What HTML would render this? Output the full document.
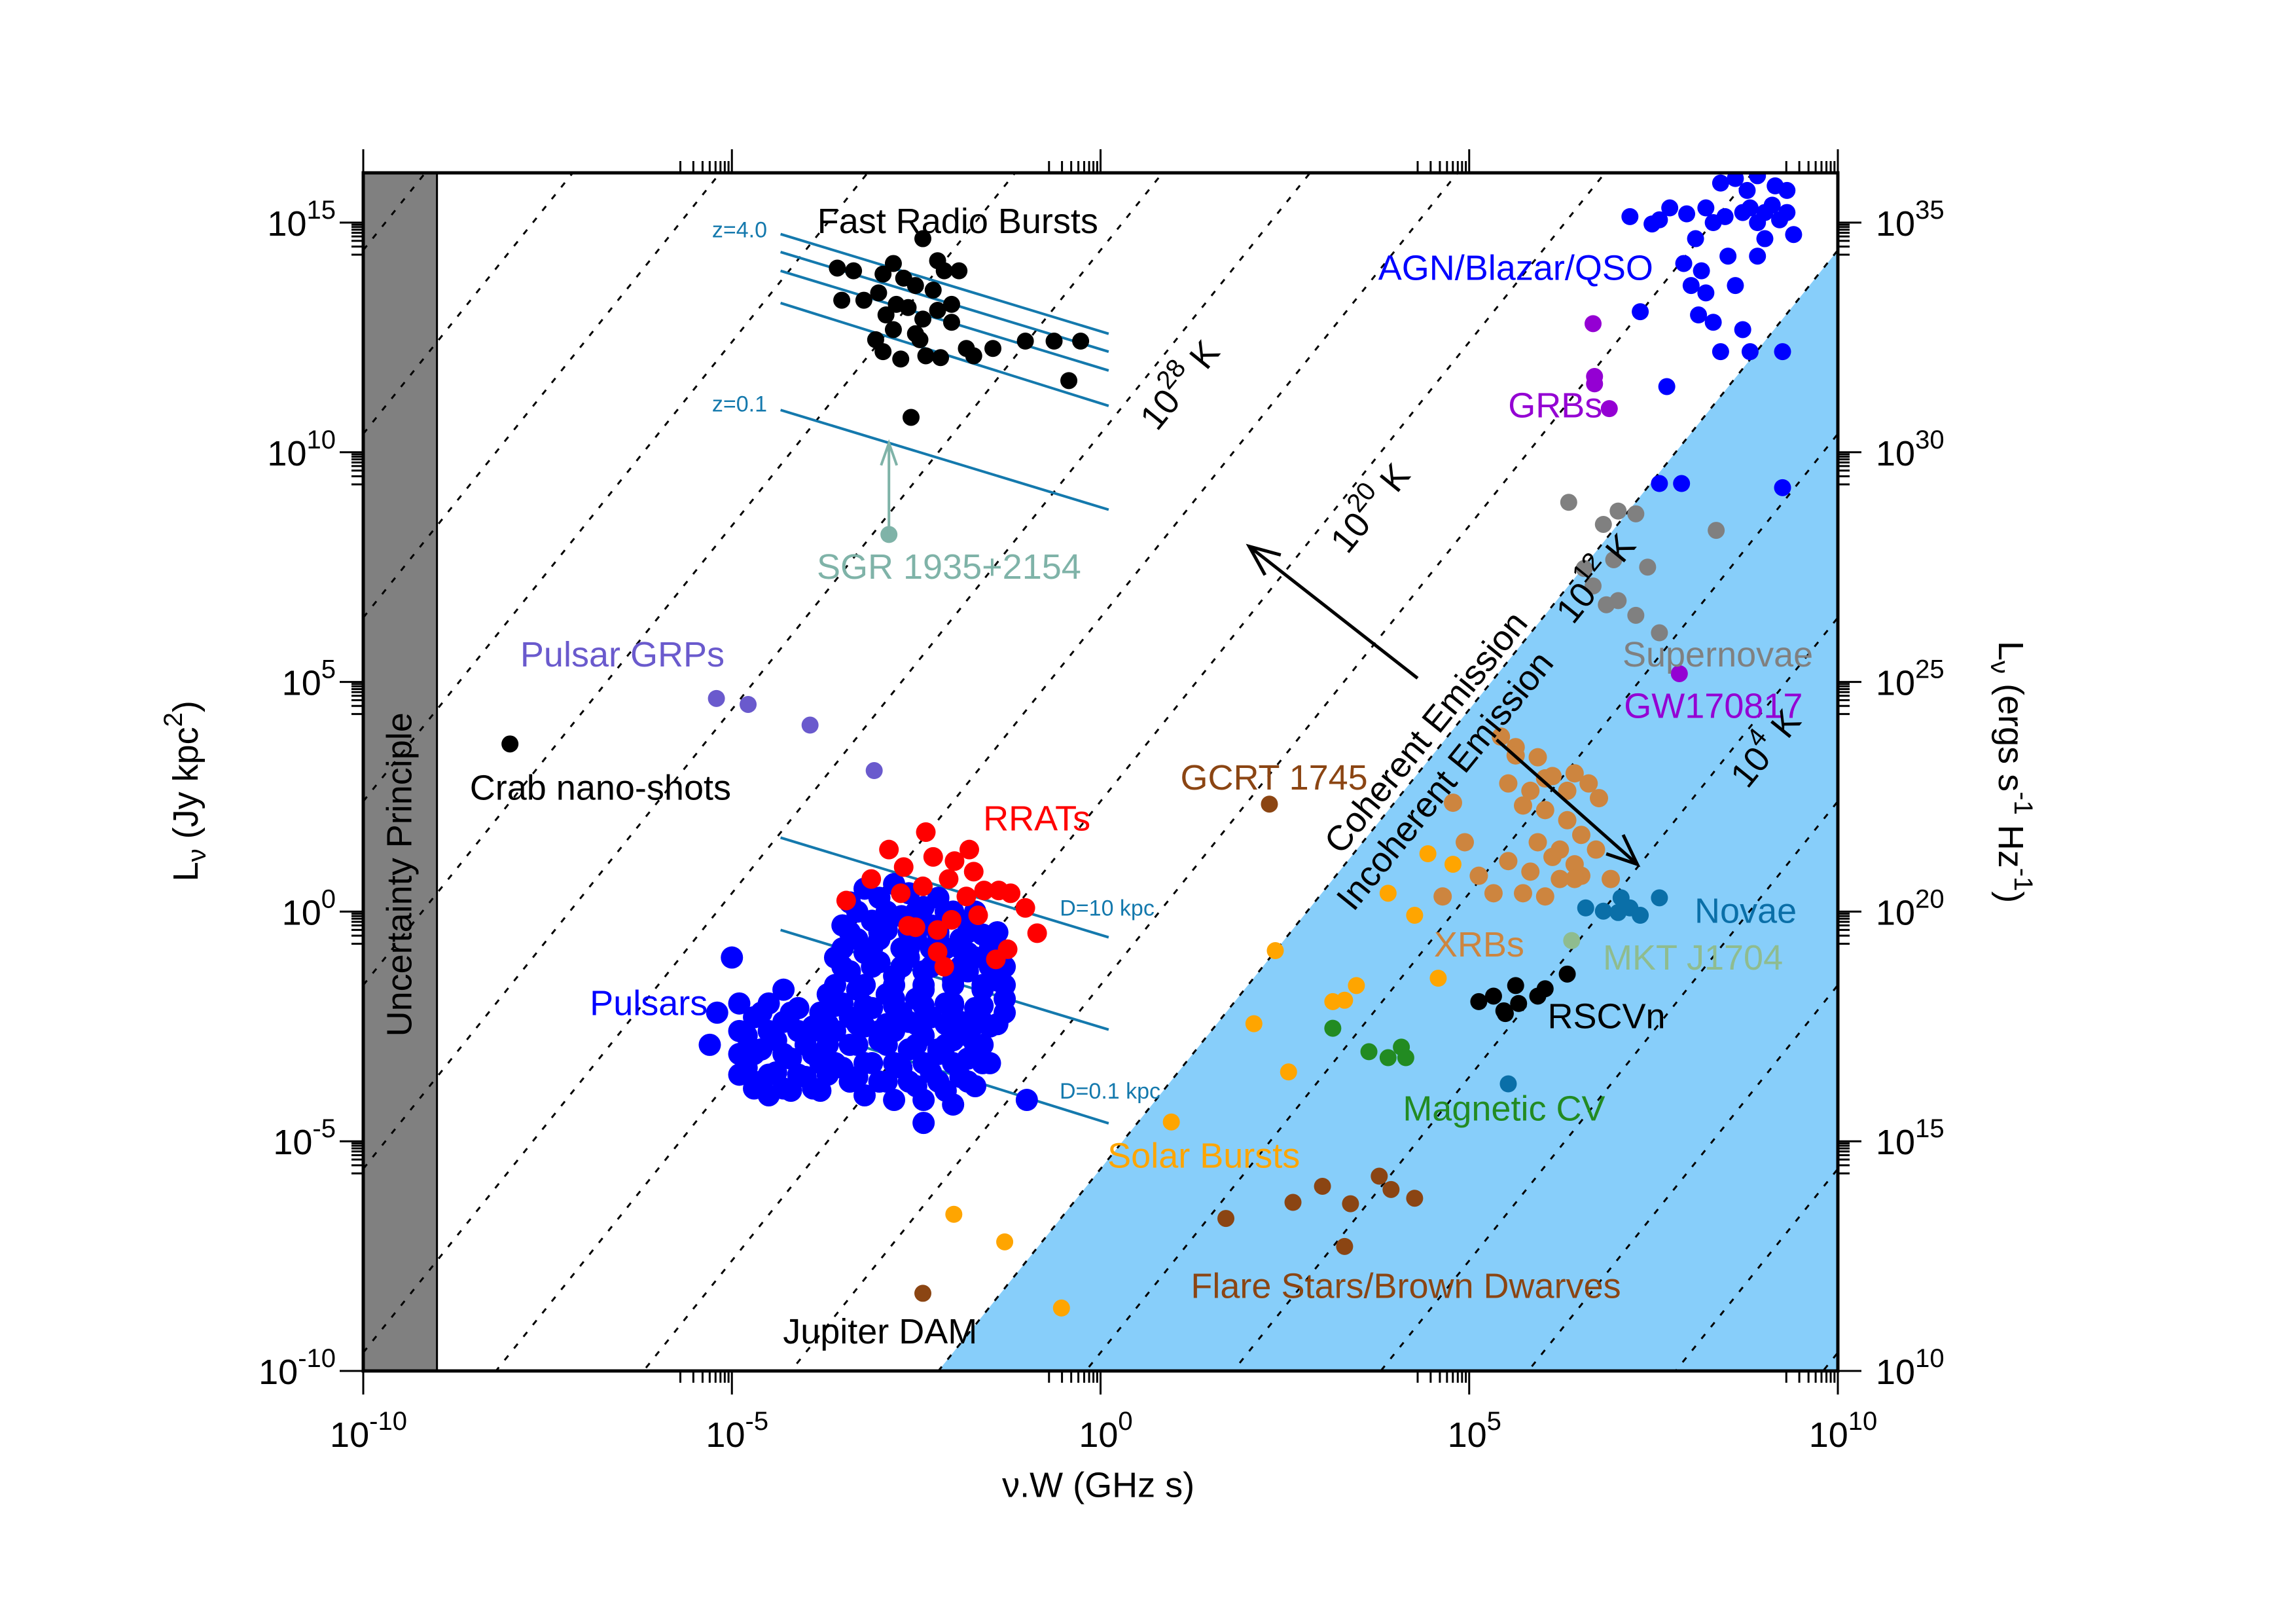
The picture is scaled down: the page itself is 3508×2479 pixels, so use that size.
<!DOCTYPE html>
<html><head><meta charset="utf-8"><style>
html,body{margin:0;padding:0;background:#fff;width:3508px;height:2479px;overflow:hidden;}
svg{display:block;font-family:"Liberation Sans",Arial,sans-serif;}
</style></head><body>
<svg id="chart" xmlns="http://www.w3.org/2000/svg" width="3508" height="2479" viewBox="0 0 3508 2479"></svg>
<script>
// ---- data (log10 values) ----
const xTicks=[-10,-5,0,5,10];
const yTicksLeft=[-10,-5,0,5,10,15];
const yTicksRight=[10,15,20,25,30,35];
const tempLogs=[-12,-8,-4,0,4,8,12,16,20,24,28,32,36,40,44,48,52];
const frbX=[-3.57,-3.35,-2.95,-2.81,-2.67,-2.51,-2.41,-2.21,-2.12,-3.01,-3.21,-3.51,-2.91,-2.61,-2.41,-2.21,-2.81,-2.51,-2.02,-3.05,-2.95,-2.71,-2.37,-1.82,-1.72,-1.46,-2.17,-1.02,-0.63,-0.27,-0.43,-2.57,-2.27,-2.45,-2.77,-1.92,-2.02];
const frbY=[14.01,13.95,13.88,14.11,13.79,13.63,14.65,14.17,13.95,13.47,13.31,13.31,12.99,13.15,12.90,13.09,12.67,12.58,12.83,12.45,12.19,12.03,12.10,12.26,12.10,12.26,12.06,12.42,12.42,12.42,11.56,10.76,13.53,12.45,13.22,13.95,13.22];
const psrX=[-3.4,-3.2,-3.0,-2.8,-2.6,-2.4,-2.2,-2.0,-1.8,-1.6,-1.4,-3.5,-3.3,-3.1,-2.9,-2.7,-2.5,-2.3,-2.1,-1.9,-1.7,-1.5,-3.6,-3.4,-3.2,-3.0,-2.8,-2.6,-2.4,-2.2,-2.0,-1.8,-1.6,-1.4,-1.3,-3.7,-3.5,-3.3,-3.1,-2.9,-2.7,-2.5,-2.3,-2.1,-1.9,-1.7,-1.5,-1.3,-3.6,-3.4,-3.2,-3.0,-2.8,-2.6,-2.4,-2.2,-2.0,-1.8,-1.6,-1.5,-3.5,-3.3,-3.1,-2.9,-2.7,-2.5,-2.3,-2.1,-1.9,-1.7,-4.9,-4.7,-4.5,-4.3,-4.1,-3.9,-4.8,-4.6,-4.4,-4.2,-4.0,-3.8,-4.8,-4.6,-4.4,-4.2,-4.0,-3.8,-4.5,-3.2,-2.8,-2.4,-2.0,-4.3,-5.0,-5.3,-2.4,-1.0,-5.2,-4.9,-3.0,-2.6,-2.2,-1.8,-3.2,-2.8,-2.4,-2.0,-1.6,-3.4,-3.0,-2.6,-2.2,-1.8];
const psrY=[0.2,0.5,0.3,0.6,0.4,0.1,0.3,0.0,-0.2,-0.5,-0.8,-0.3,-0.6,-0.2,-0.4,-0.1,-0.6,-0.3,-0.8,-0.6,-1.0,-1.2,-1.0,-1.3,-0.9,-1.1,-1.4,-1.0,-1.3,-1.1,-1.5,-1.3,-1.7,-1.5,-1.9,-1.8,-2.0,-1.7,-2.1,-1.8,-2.2,-1.9,-2.3,-2.0,-2.4,-2.1,-2.5,-2.2,-2.6,-2.9,-2.5,-2.8,-2.6,-3.0,-2.7,-3.1,-2.8,-3.2,-2.9,-3.3,-3.4,-3.6,-3.3,-3.7,-3.4,-3.8,-3.5,-3.9,-3.6,-3.8,-2.0,-2.3,-2.0,-2.4,-2.1,-2.5,-2.7,-3.0,-2.8,-3.2,-2.9,-3.3,-3.4,-3.7,-3.5,-3.9,-3.6,-3.9,-4.0,-4.0,-4.1,-4.1,-4.2,-1.7,-1.0,-2.9,-4.6,-4.1,-2.2,-3.1,-0.6,-0.8,-0.5,-0.9,-1.6,-1.9,-1.7,-2.0,-2.4,-2.3,-2.6,-2.4,-3.0,-2.7];
const psr2X=[-3.3,-2.9,-2.5,-2.1,-1.7,-3.4,-3.0,-2.6,-2.2,-1.8,-1.4,-3.5,-3.1,-2.7,-2.3,-1.9,-1.5,-3.5,-3.1,-2.7,-2.3,-1.9,-1.5,-1.3,-3.6,-3.2,-2.8,-2.4,-2.0,-1.6,-1.3,-3.6,-3.2,-2.8,-2.4,-2.0,-1.6,-3.7,-3.3,-2.9,-2.5,-2.1,-1.7,-1.4,-3.7,-3.3,-2.9,-2.5,-2.1,-1.7,-3.6,-3.2,-2.8,-2.4,-2.0,-1.6,-3.4,-3.0,-2.6,-2.2,-1.8,-4.6,-4.2,-3.8,-4.9,-4.5,-4.1,-3.8,-4.7,-4.3,-3.9,-4.9,-4.5,-4.1,-3.7,-4.7,-4.3,-3.9];
const psr2Y=[0.0,0.0,0.0,0.0,0.0,-0.45,-0.45,-0.45,-0.45,-0.45,-0.45,-0.8,-0.8,-0.8,-0.8,-0.8,-0.8,-1.2,-1.2,-1.2,-1.2,-1.2,-1.2,-1.2,-1.6,-1.6,-1.6,-1.6,-1.6,-1.6,-1.6,-2.05,-2.05,-2.05,-2.05,-2.05,-2.05,-2.45,-2.45,-2.45,-2.45,-2.45,-2.45,-2.45,-2.9,-2.9,-2.9,-2.9,-2.9,-2.9,-3.3,-3.3,-3.3,-3.3,-3.3,-3.3,-3.7,-3.7,-3.7,-3.7,-3.7,-2.2,-2.2,-2.2,-2.6,-2.6,-2.6,-2.6,-3.1,-3.1,-3.1,-3.55,-3.55,-3.55,-3.55,-3.85,-3.85,-3.85];
const rratX=[-3.45,-3.11,-2.87,-2.67,-2.37,-2.27,-1.98,-1.72,-1.58,-1.38,-1.02,-0.86,-1.26,-1.42,-2.02,-2.21,-2.51,-2.61,-2.71,-2.41,-1.82,-1.66,-2.12,-2.21,-1.22,-1.78,-2.06];
const rratY=[0.24,0.71,1.35,0.97,1.73,1.19,1.10,0.87,0.46,0.46,0.08,-0.47,-0.82,-1.04,-0.18,-0.40,-0.34,-0.31,0.40,0.55,0.33,-0.08,-1.20,-0.88,0.40,1.35,0.71];
const grpX=[-5.21,-4.78,-3.94,-3.07];
const grpY=[4.64,4.51,4.06,3.07];
const crabX=[-8.01]; const crabY=[3.65];
const sgrX=[-2.87]; const sgrY=[8.21];
const gcrtX=[2.29]; const gcrtY=[2.34];
const jupX=[-2.41]; const jupY=[-8.31];
const solarX=[-1.99,-1.30,-0.53,0.96,2.08,2.55,2.37,3.15,3.31,3.47,3.90,4.26,4.44,4.58,4.78];
const solarY=[-6.59,-7.19,-8.63,-4.58,-2.44,-3.49,-0.85,-1.96,-1.93,-1.61,0.40,-0.08,1.26,-1.45,1.03];
const flareX=[1.70,2.61,3.01,3.39,3.78,3.94,4.26,3.31];
const flareY=[-6.68,-6.33,-5.98,-6.36,-5.76,-6.05,-6.24,-7.29];
const mcvX=[3.15,3.64,3.90,4.08,4.14];
const mcvY=[-2.54,-3.05,-3.18,-2.95,-3.18];
const rscvnX=[5.13,5.33,5.47,5.63,5.67,5.93,6.03,6.33,5.49];
const rscvnY=[-1.96,-1.84,-2.16,-1.61,-2.0,-1.84,-1.68,-1.36,-2.22];
const novaX=[6.58,6.82,7.06,7.18,7.32,7.58,7.02,5.53];
const novaY=[0.08,0.01,0.30,0.08,-0.08,0.30,-0.02,-3.75];
const mktX=[6.39]; const mktY=[-0.63];
const xrbX=[5.43,5.63,5.93,5.53,5.83,6.13,6.43,6.62,6.76,5.73,6.03,6.33,6.52,6.72,5.93,6.13,5.83,6.23,6.52,5.73,4.94,4.78,5.13,5.33,5.53,6.33,6.92,6.03,6.43,4.64,6.23,6.43,5.63,6.03];
const xrbY=[3.81,3.58,3.36,2.79,2.63,2.95,3.01,2.79,2.47,2.31,2.21,1.99,1.67,1.35,1.51,1.19,0.87,0.71,0.78,0.40,1.51,2.37,0.78,0.40,1.10,2.63,0.71,0.33,1.03,0.33,1.35,0.71,3.4,2.9];
const snX=[6.35,6.82,7.02,7.26,6.56,6.96,7.42,8.35,6.68,7.02,6.86,7.26,7.58];
const snY=[8.91,8.43,8.72,8.66,7.47,7.66,7.50,8.30,7.09,6.77,6.68,6.45,6.07];
const gwX=[7.85]; const gwY=[5.18];
const grbX=[6.68,6.70,6.70,6.90]; const grbY=[12.80,11.65,11.49,10.95];
const agnX=[7.18,7.48,7.72,7.95,8.21,8.47,8.71,8.91,9.11,8.41,8.61,8.91,9.15,9.31,9.01,9.21,9.40,7.91,8.15,8.01,8.21,8.51,8.61,8.11,8.31,8.71,8.41,8.81,7.32,7.68,9.25,7.58,7.88,9.25,8.77,9.01,8.07,9.31,8.91,7.58,8.31,8.81];
const agnY=[15.13,14.97,15.32,15.19,15.32,15.13,15.22,15.0,15.38,15.86,15.96,16.02,15.80,15.70,15.22,15.06,14.74,14.11,13.95,13.63,13.47,14.27,13.63,12.99,12.83,12.67,12.19,12.19,13.06,11.43,12.19,9.32,9.32,9.23,15.70,14.65,14.65,15.22,14.27,15.06,15.0,15.32];
const zLines=[[14.75,12.58],[14.36,12.19],[13.95,11.78],[13.25,11.01],[10.92,8.75]];
const dLines=[[1.61,-0.56],[-0.40,-2.57],[-2.38,-4.61]];
const lineXRange=[-4.34,0.11];

// ---- axes ----
const L=555,R=2808,T=264,B=2094;
const X=v=>L+(v+10)*(R-L)/20;
const Y=v=>B-(v+10)*70.16;
const svg=document.getElementById('chart');
const NS='http://www.w3.org/2000/svg';
function mk(tag,attrs,parent){const e=document.createElementNS(NS,tag);for(const k in attrs)e.setAttribute(k,attrs[k]);(parent||svg).appendChild(e);return e;}
const defs=mk('defs',{});
const cp=mk('clipPath',{id:'pc'},defs);mk('rect',{x:L,y:T,width:R-L,height:B-T},cp);
const plot=mk('g',{'clip-path':'url(#pc)'});



const band=mk('rect',{x:X(-10),y:T,width:X(-9)-X(-10),height:B-T,fill:'#808080',stroke:'#000','stroke-width':3},plot);


const c12=-5.6;
const xb=(-10-c12)/2;
const reg=mk('polygon',{points:`${X(xb)},${Y(-10)} ${X(10)},${Y(2*10+c12)} ${X(10)},${Y(-10)}`,fill:'#87cefa'},plot);


tempLogs.forEach(t=>{const c=c12+(t-12);
 const ln=mk('line',{x1:X(-10),y1:Y(-20+c),x2:X(10),y2:Y(20+c),stroke:'#000','stroke-width':3,'stroke-dasharray':'9 14'},plot);
 
 });
zLines.concat(dLines).forEach(p=>{
 const ln=mk('line',{x1:X(lineXRange[0]),y1:Y(p[0]),x2:X(lineXRange[1]),y2:Y(p[1]),stroke:'#1479ad','stroke-width':4},plot);
 
 });

function scatter(xs,ys,color,name,r){const g=mk('g',{fill:color},plot);
 
 
 xs.forEach((x,i)=>{const c=mk('circle',{cx:X(x),cy:Y(ys[i]),r:r||13},g);
  
  });}
scatter(psrX,psrY,'#0000ff','pulsars',17);
scatter(psr2X,psr2Y,'#0000ff','pulsars-core',17);
scatter(rratX,rratY,'#ff0000','rrats',15);
scatter(frbX,frbY,'#000000','fast-radio-bursts');
scatter(grpX,grpY,'#6a5acd','pulsar-grps');
scatter(crabX,crabY,'#000000','crab-nano-shots');
scatter(gcrtX,gcrtY,'#8b4513','gcrt-1745');
scatter(jupX,jupY,'#8b4513','jupiter-dam');
scatter(solarX,solarY,'#ffa500','solar-bursts');
scatter(flareX,flareY,'#8b4513','flare-stars');
scatter(mcvX,mcvY,'#228b22','magnetic-cv');
scatter(xrbX,xrbY,'#cd853f','xrbs',14);
scatter(rscvnX,rscvnY,'#000000','rscvn');
scatter(novaX,novaY,'#0a6fa8','novae');
scatter(mktX,mktY,'#8fbc8f','mkt-j1704');
scatter(snX,snY,'#808080','supernovae');
scatter(gwX,gwY,'#9400d3','gw170817');
scatter(grbX,grbY,'#9400d3','grbs');
scatter(agnX,agnY,'#0000ff','agn-blazar-qso');
scatter(sgrX,sgrY,'#7fb3a8','sgr-1935');
const sa=mk('line',{x1:X(sgrX[0]),y1:Y(sgrY[0]),x2:X(sgrX[0]),y2:Y(10.2),stroke:'#7fb3a8','stroke-width':4});


const sah=mk('polyline',{points:`${X(sgrX[0])-12},${Y(10.2)+34} ${X(sgrX[0])},${Y(10.2)} ${X(sgrX[0])+12},${Y(10.2)+34}`,fill:'none',stroke:'#7fb3a8','stroke-width':4});



const fr=mk('rect',{x:L,y:T,width:R-L,height:B-T,fill:'none',stroke:'#000','stroke-width':5});


const tg=mk('g',{stroke:'#000','stroke-width':3});


xTicks.forEach(d=>{const x=X(d);
 mk('line',{x1:x,y1:B,x2:x,y2:B+36},tg);mk('line',{x1:x,y1:T,x2:x,y2:T-36},tg);
 if(d>-10)for(let m=2;m<10;m++){const xm=X(d-1+Math.log10(m));
  mk('line',{x1:xm,y1:B,x2:xm,y2:B+18},tg);mk('line',{x1:xm,y1:T,x2:xm,y2:T-18},tg);}});
yTicksLeft.forEach(d=>{const y=Y(d);
 mk('line',{x1:L,y1:y,x2:L-36,y2:y},tg);mk('line',{x1:R,y1:y,x2:R+36,y2:y},tg);
 if(d>-10)for(let m=2;m<10;m++){const ym=Y(d-1+Math.log10(m));
  mk('line',{x1:L,y1:ym,x2:L-18,y2:ym},tg);mk('line',{x1:R,y1:ym,x2:R+18,y2:ym},tg);}});

function pow(x,y,e,anchor,name){const t=mk('text',{x:x,y:y,'font-size':54,'text-anchor':anchor,fill:'#000'});
 
 
 t.innerHTML=`10<tspan dy="-26" font-size="40">${e}</tspan>`;return t;}
xTicks.forEach(v=>pow(X(v)+8,2210,v,'middle','x-tick-label'));
yTicksLeft.forEach(v=>pow(L-42,Y(v)+20,v,'end','y-tick-label-left'));
yTicksRight.forEach(v=>pow(R+58,Y(v-20)+20,v,'start','y-tick-label-right'));

function label(txt,x,y,color,size,rot,name){const t=mk('text',{x:x,y:y,'font-size':size,'text-anchor':'middle',fill:color});
 if(rot)t.setAttribute('transform',`rotate(${rot} ${x} ${y})`);
 
 
 t.innerHTML=txt;return t;}
const s=2.2375;
label('ν.W (GHz s)',750*s,1022*s,'#000',54,0,'x-axis-title');
label('L<tspan font-size="40" dy="12">ν</tspan><tspan dy="-12"> (Jy kpc</tspan><tspan font-size="40" dy="-24">2</tspan><tspan dy="24">)</tspan>',135*s,540*s,'#000',54,-90,'y-axis-title-left');
label('L<tspan font-size="40" dy="12">ν</tspan><tspan dy="-12"> (ergs s</tspan><tspan font-size="40" dy="-24">-1</tspan><tspan dy="24"> Hz</tspan><tspan font-size="40" dy="-24">-1</tspan><tspan dy="24">)</tspan>',1365*s,527*s,'#000',54,90,'y-axis-title-right');
label('Uncertainty Principle',281*s,597*s,'#000',54,-90,'uncertainty-label');
label('Fast Radio Bursts',654*s,159*s,'#000',54,0,'frb-label');
label('AGN/Blazar/QSO',1035*s,191*s,'#0000ff',54,0,'agn-label');
label('GRBs',1062*s,285*s,'#9400d3',54,0,'grb-label');
label('SGR 1935+2154',648*s,395*s,'#7fb3a8',54,0,'sgr-label');
label('Pulsar GRPs',425*s,455*s,'#6a5acd',54,0,'pulsar-grps-label');
label('Crab nano-shots',410*s,546*s,'#000',54,0,'crab-label');
label('RRATs',708*s,567*s,'#ff0000',54,0,'rrats-label');
label('GCRT 1745',870*s,539*s,'#8b4513',54,0,'gcrt-label');
label('Pulsars',443*s,693*s,'#0000ff',54,0,'pulsars-label');
label('Supernovae',1173*s,455*s,'#808080',54,0,'supernovae-label');
label('GW170817',1170*s,490*s,'#9400d3',54,0,'gw-label');
label('XRBs',1010*s,653*s,'#cd853f',54,0,'xrbs-label');
label('Novae',1192*s,630*s,'#0a6fa8',54,0,'novae-label');
label('MKT J1704',1156*s,662*s,'#8fbc8f',54,0,'mkt-label');
label('RSCVn',1097*s,702*s,'#000',54,0,'rscvn-label');
label('Magnetic CV',1027*s,765*s,'#228b22',54,0,'magnetic-cv-label');
label('Solar Bursts',822*s,797*s,'#ffa500',54,0,'solar-label');
label('Flare Stars/Brown Dwarves',960*s,886*s,'#8b4513',54,0,'flare-label');
label('Jupiter DAM',601*s,917*s,'#000',54,0,'jupiter-label');
label('z=4.0',505*s,162*s,'#1479ad',34,0,'z4-label');
label('z=0.1',505*s,281*s,'#1479ad',34,0,'z01-label');
label('D=10 kpc',756*s,625*s,'#1479ad',34,0,'d10-label');
label('D=0.1 kpc',758*s,750*s,'#1479ad',34,0,'d01-label');
label('10<tspan font-size="40" dy="-26">28</tspan><tspan dy="26"> K</tspan>',812*s,268*s,'#000',54,-51,'t28-label');
label('10<tspan font-size="40" dy="-26">20</tspan><tspan dy="26"> K</tspan>',942*s,352*s,'#000',54,-51,'t20-label');
label('10<tspan font-size="40" dy="-26">12</tspan><tspan dy="26"> K</tspan>',1096*s,400*s,'#000',54,-51,'t12-label');
label('10<tspan font-size="40" dy="-26">4</tspan><tspan dy="26"> K</tspan>',1212*s,516*s,'#000',54,-51,'t4-label');
label('Coherent Emission',980*s,505*s,'#000',54,-51,'coherent-label');
label('Incoherent Emission',993*s,538*s,'#000',54,-51,'incoherent-label');
function arrow(x1,y1,x2,y2,name){const g=mk('g',{stroke:'#000','stroke-width':5,fill:'none'});
 
 
 mk('line',{x1:x1,y1:y1,x2:x2,y2:y2},g);
 const a=Math.atan2(y2-y1,x2-x1),h=50;
 mk('polyline',{points:`${x2-h*Math.cos(a-0.4)},${y2-h*Math.sin(a-0.4)} ${x2},${y2} ${x2-h*Math.cos(a+0.4)},${y2-h*Math.sin(a+0.4)}`},g);}
arrow(968*s,463*s,853*s,373*s,'coherent-arrow');
arrow(1022*s,505*s,1118*s,590*s,'incoherent-arrow');
</script>
</body></html>
